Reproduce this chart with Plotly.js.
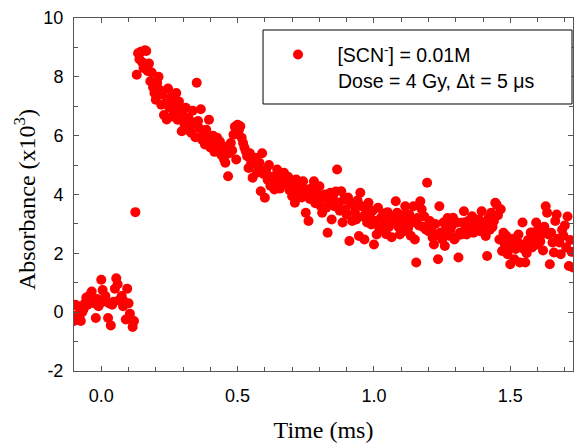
<!DOCTYPE html>
<html>
<head>
<meta charset="utf-8">
<script src="https://cdn.plot.ly/plotly-3.0.1.min.js"></script>
<style>html,body{margin:0;padding:0;background:#fff;}#chart{width:575px;height:444px;}</style>
</head>
<body>
<div id="chart"></div>
<script>
// Time axis: first sample time and sampling interval (ms)
const timeStart = -0.1;
const timeStep = 0.005;

// Absorbance (x10^3) before the pulse (t = -0.100 ... 0.120 ms)
const prePulse = [
  -0.3, 0.25, -0.1, 0.2, -0.2, -0.3, 0.0, 0.1, 0.3, 0.5,
  0.25, 0.35, 0.6, 0.7, 0.4, 0.3, -0.2, 0.45, 0.2, 0.3,
  1.1, 0.75, 0.4, 0.55, 0.35, -0.2, 0.3, -0.45, 0.25, 0.35,
  0.8, 1.15, 0.95, 0.4, 0.45, 0.55, 0.2, 0.35, -0.25, 0.8,
  0.3, -0.05, -0.25, -0.5, -0.3
];
// Sample during the pulse rise (t = 0.125 ms)
const rise = [3.4];
// Decay after the pulse (t = 0.130 ... 1.730 ms)
const decay = [
  8.07, 8.8, 8.6, 8.85, 8.5, 8.3, 8.9, 8.88, 8.2, 8.45,
  7.85, 8.15, 7.65, 7.45, 7.22, 7.8, 8.0, 7.55, 7.05, 7.4,
  6.7, 7.1, 6.55, 7.6, 6.95, 7.3, 6.65, 7.15, 6.85, 7.45,
  6.54, 7.16, 6.9, 6.15, 6.7, 6.4, 6.95, 6.2, 6.6, 6.3,
  6.1, 6.85, 6.45, 5.95, 7.8, 6.5, 6.25, 6.9, 5.86, 6.05,
  5.7, 6.2, 5.9, 6.54, 5.6, 5.85, 6.0, 5.45, 5.75, 5.93,
  5.5, 5.8, 5.35, 5.65, 5.2, 5.08, 5.6, 4.62, 5.4, 5.75,
  5.5, 6.03, 6.3, 5.19, 6.37, 6.2, 6.32, 5.93, 5.75, 5.6,
  5.47, 5.3, 4.9, 5.4, 5.1, 4.57, 5.08, 5.25, 4.74, 4.95,
  5.08, 4.11, 5.4, 4.7, 3.89, 4.85, 4.5, 5.0, 4.3, 4.6,
  4.57, 4.17, 4.4, 4.85, 4.55, 4.2, 4.7, 4.35, 4.74, 4.45,
  4.4, 4.6, 4.15, 4.5, 3.94, 4.3, 3.72, 4.51, 4.2, 4.05,
  4.3, 3.9, 4.45, 4.0, 3.38, 4.17, 3.1, 3.85, 4.2, 3.95,
  4.45, 3.7, 4.1, 3.83, 4.28, 3.6, 3.38, 3.9, 4.0, 3.55,
  2.7, 3.75, 4.06, 3.15, 3.95, 3.6, 4.1, 4.85, 3.72, 3.45,
  4.11, 3.05, 3.83, 3.5, 3.32, 3.9, 2.42, 3.7, 3.1, 3.65,
  3.4, 3.15, 3.8, 2.59, 4.06, 3.6, 3.25, 2.47, 3.5, 3.05,
  3.72, 3.3, 2.98, 3.45, 2.3, 3.1, 2.64, 3.55, 2.85, 3.2,
  2.81, 3.35, 3.0, 2.65, 3.4, 2.9, 3.15, 2.55, 3.25, 3.05,
  3.77, 3.38, 2.9, 2.64, 3.15, 3.3, 2.75, 3.6, 3.05, 2.85,
  3.32, 2.6, 3.05, 3.6, 2.47, 1.69, 3.2, 2.95, 3.77, 3.5,
  2.9, 3.25, 2.81, 4.4, 2.75, 3.1, 2.88, 2.54, 2.3, 3.0,
  2.65, 1.8, 3.6, 2.71, 2.47, 3.05, 2.25, 2.9, 3.2, 2.6,
  2.8, 2.93, 3.21, 2.47, 2.55, 3.05, 1.86, 2.7, 2.64, 3.05,
  3.43, 2.85, 2.64, 3.1, 2.81, 2.95, 3.26, 2.7, 2.9, 3.0,
  2.81, 3.15, 2.75, 3.43, 2.95, 3.05, 2.59, 1.91, 3.2, 2.8,
  3.38, 2.9, 3.1, 3.72, 3.65, 3.3, 2.47, 3.5, 2.08, 2.7,
  2.3, 2.6, 1.97, 2.4, 1.63, 2.2, 2.5, 1.8, 2.15, 2.42,
  2.64, 1.69, 2.3, 3.05, 2.14, 1.69, 2.0, 2.45, 2.25, 2.71,
  2.2, 2.71, 2.5, 3.05, 2.3, 2.85, 2.4, 2.64, 2.1, 2.9,
  3.6, 3.38, 2.64, 1.63, 2.7, 2.37, 2.03, 3.1, 3.32, 2.5,
  2.37, 1.97, 2.8, 2.6, 2.95, 2.2, 3.25, 1.57, 2.45, 2.05,
  1.52
];

const xTickVals = [0.0, 0.5, 1.0, 1.5];
const xTickText = ['0.0', '0.5', '1.0', '1.5'];
const yTickVals = [-2, 0, 2, 4, 6, 8, 10];
const yTickText = ['-2', '0', '2', '4', '6', '8', '10'];

const seriesName = '[SCN<sup>-</sup>] = 0.01M';
const seriesNote = 'Dose = 4 Gy, \u0394t = 5 \u03bcs';
const xTitle = 'Time (ms)';
const yTitle = 'Absorbance (x10<sup>3</sup>)';

const absorbance = prePulse.concat(rise, decay);

const axisColor = '#555555';
const sansFamily = 'Liberation Sans, Arial, sans-serif';
const tickFont = {family: sansFamily, size: 18, color: '#000'};
const titleFont = {family: 'Liberation Serif, Times New Roman, serif', size: 24, color: '#000'};
const legendFont = {family: sansFamily, size: 19.5, color: '#000'};
const pad = '\u00a0';

const trace = {
  type: 'scatter',
  mode: 'markers',
  x0: timeStart,
  dx: timeStep,
  y: absorbance,
  name: pad + seriesName,
  marker: {color: '#ff0000', size: 10, line: {width: 0}},
  cliponaxis: true
};

const layout = {
  width: 575,
  height: 444,
  margin: {l: 74, r: 2, t: 18, b: 73},
  paper_bgcolor: '#fff',
  plot_bgcolor: '#fff',
  showlegend: true,
  shapes: [{
    type: 'rect', xref: 'paper', yref: 'paper',
    x0: 0.3788, x1: 0.998, y0: 0.7564, y1: 0.966,
    line: {color: '#000', width: 1},
    fillcolor: '#fff',
    layer: 'above'
  }],
  annotations: [
    {
      text: seriesNote, xref: 'paper', yref: 'paper',
      x: 0.525, y: 0.8215, xanchor: 'left', yanchor: 'middle',
      showarrow: false, font: legendFont
    },
    {
      text: yTitle, xref: 'paper', yref: 'paper',
      x: -0.0982, y: 0.487, xanchor: 'center', yanchor: 'middle',
      textangle: -90, showarrow: false, font: titleFont
    }
  ],
  legend: {
    x: 0.3808, xanchor: 'left',
    y: 0.951, yanchor: 'top',
    bgcolor: 'rgba(0,0,0,0)',
    borderwidth: 0,
    font: legendFont,
    itemwidth: 58,
    valign: 'middle'
  },
  xaxis: {
    range: [-0.1, 1.73],
    tickvals: xTickVals,
    ticktext: xTickText,
    ticks: 'inside',
    ticklen: 5,
    tickcolor: axisColor,
    showline: true,
    linecolor: axisColor,
    linewidth: 1,
    mirror: 'ticks',
    showgrid: false,
    zeroline: false,
    tickfont: tickFont,
    ticklabelstandoff: 8,
    minor: {dtick: 0.1, tick0: 0, ticks: 'inside', ticklen: 4, tickcolor: axisColor, showgrid: false},
    title: {text: xTitle, font: titleFont, standoff: 16}
  },
  yaxis: {
    range: [-2, 10],
    tickvals: yTickVals,
    ticktext: yTickText,
    ticks: 'inside',
    ticklen: 5,
    tickcolor: axisColor,
    showline: true,
    linecolor: axisColor,
    linewidth: 1,
    mirror: 'ticks',
    showgrid: false,
    zeroline: false,
    tickfont: tickFont,
    ticklabelstandoff: 6,
    minor: {dtick: 1, tick0: 0, ticks: 'inside', ticklen: 4, tickcolor: axisColor, showgrid: false}
  }
};

Plotly.newPlot('chart', [trace], layout, {displayModeBar: false, staticPlot: true});
</script>
</body>
</html>
